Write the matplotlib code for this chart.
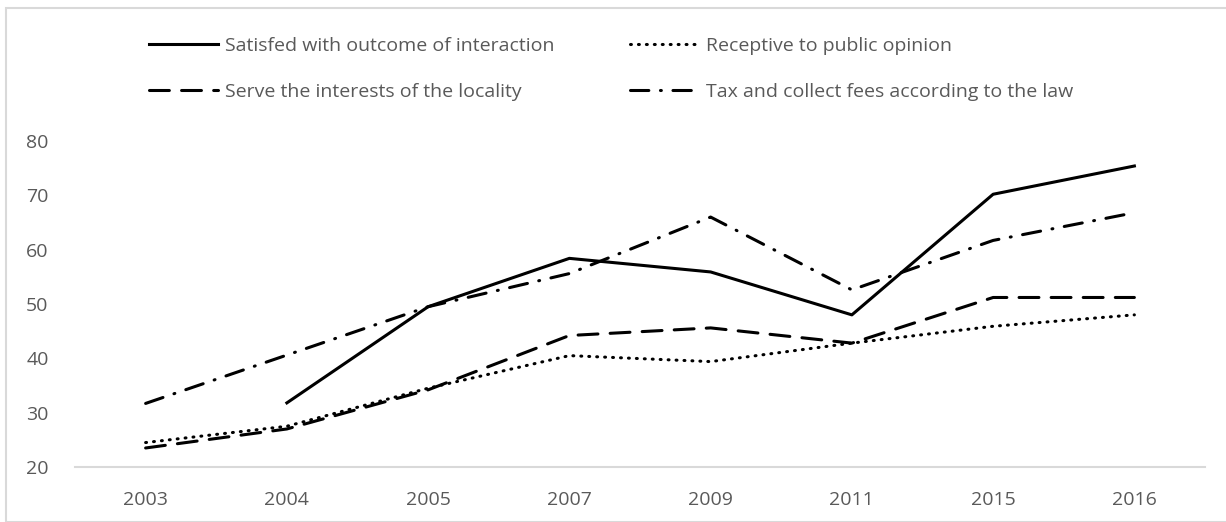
import numpy as np
import matplotlib
matplotlib.use("Agg")
import matplotlib.pyplot as plt
from matplotlib.patches import Rectangle

years = ["2003", "2004", "2005", "2007", "2009", "2011", "2015", "2016"]
satisfied = [np.nan, 31.8, 49.5, 58.4, 55.9, 48.0, 70.2, 75.4]
receptive = [24.5, 27.5, 34.5, 40.5, 39.4, 42.8, 45.9, 48.0]
serve = [23.5, 27.0, 34.2, 44.2, 45.6, 42.8, 51.2, 51.2]
tax = [31.7, 40.6, 49.5, 55.6, 66.0, 52.6, 61.7, 66.8]

plt.rcParams["font.family"] = ["Open Sans", "DejaVu Sans"]
text_grey = "#595959"
W, H = 1226, 522

fig = plt.figure(figsize=(W / 100, H / 100), dpi=100)
ax = fig.add_axes([75 / W, 55 / H, 1130 / W, 326 / H])

x = np.arange(len(years))
lw = 2.2
l_sat, = ax.plot(x, satisfied, color="black", lw=lw,
                 label="Satisfed with outcome of interaction")
l_rec, = ax.plot(x, receptive, color="black", lw=lw, linestyle=(0, (0.3, 2.3)),
                 dash_capstyle="round", label="Receptive to public opinion")
l_srv, = ax.plot(x, serve, color="black", lw=lw, linestyle=(0, (6.5, 4)),
                 dash_capstyle="round", label="Serve the interests of the locality")
l_tax, = ax.plot(x, tax, color="black", lw=lw, linestyle=(0, (6, 3.8, 0.3, 3.8)),
                 dash_capstyle="round", label="Tax and collect fees according to the law")

ax.set_xlim(-0.5, len(years) - 0.5)
ax.set_ylim(20, 80)
ax.set_yticks(range(20, 81, 10))
ax.set_xticks(x)
ax.set_xticklabels(years)
ax.tick_params(length=0, labelsize=14, colors=text_grey)
ax.tick_params(axis="x", pad=17)
ax.tick_params(axis="y", pad=19)
for side in ["top", "right", "left"]:
    ax.spines[side].set_visible(False)
ax.spines["bottom"].set_color("#d9d9d9")
ax.spines["bottom"].set_linewidth(1.5)

# two rows: solid/dotted on top, dashed/dash-dot below
handles = [l_sat, l_srv, l_rec, l_tax]
leg = fig.legend(handles=handles, labels=[h.get_label() for h in handles],
                 loc="upper left", bbox_to_anchor=(149 / W, 1 - 37 / H),
                 ncol=2, frameon=False, fontsize=14, borderpad=0,
                 borderaxespad=0, handlelength=3.55, handletextpad=0.36,
                 columnspacing=3.9, labelspacing=1.45)
for t in leg.get_texts():
    t.set_color(text_grey)

# chart area border
fig.patches.append(Rectangle((6 / W, 0), 1.2, 1 - 8 / H, transform=fig.transFigure,
                             fill=False, edgecolor="#d9d9d9", lw=1.5))

fig.savefig("out.png", dpi=100)
